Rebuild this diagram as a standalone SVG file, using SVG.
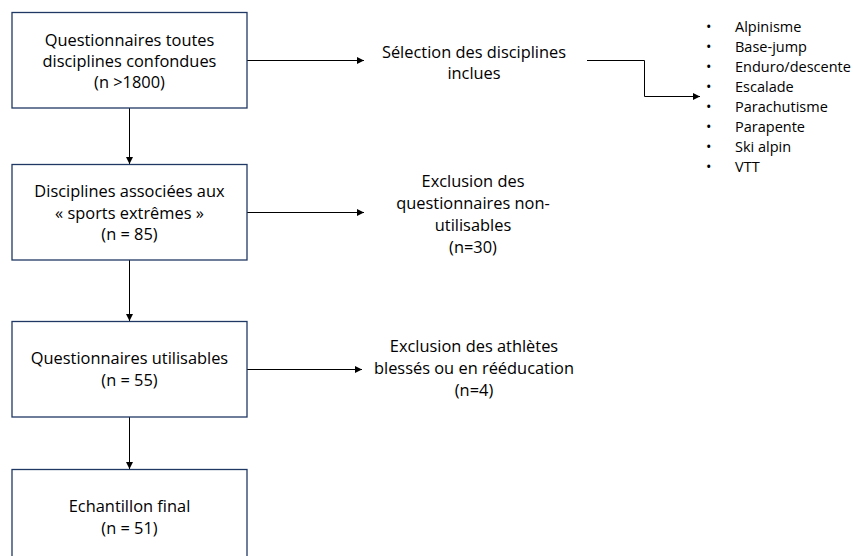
<svg xmlns="http://www.w3.org/2000/svg" width="853" height="556" viewBox="0 0 853 556">
<style>
.box{fill:#fff;stroke:#1F3864;stroke-width:1.3}
.t{font-family:"Open Sans","Liberation Sans",sans-serif;font-size:16.4px;fill:#000;text-anchor:middle}
.l{font-family:"Open Sans","Liberation Sans",sans-serif;font-size:14.5px;fill:#000}
.c{fill:none;stroke:#000;stroke-width:1}
</style>
<defs>
<marker id="ah" viewBox="0 0 10 10" refX="10" refY="5" markerWidth="7" markerHeight="7" markerUnits="userSpaceOnUse" orient="auto">
<path d="M0,0 L10,5 L0,10 z" fill="#000"/>
</marker>
</defs>
<rect width="853" height="556" fill="#fff"/>
<g id="connectors">
<line class="c" x1="129.5" y1="108" x2="129.5" y2="164" marker-end="url(#ah)"/>
<line class="c" x1="129.5" y1="260" x2="129.5" y2="321" marker-end="url(#ah)"/>
<line class="c" x1="129.5" y1="417" x2="129.5" y2="469" marker-end="url(#ah)"/>
<line class="c" x1="247" y1="60.5" x2="364" y2="60.5" marker-end="url(#ah)"/>
<line class="c" x1="247" y1="212.5" x2="364" y2="212.5" marker-end="url(#ah)"/>
<line class="c" x1="247" y1="369.5" x2="362" y2="369.5" marker-end="url(#ah)"/>
<polyline class="c" points="587,60.5 644.5,60.5 644.5,96.5 700,96.5" marker-end="url(#ah)"/>
</g>
<g id="n1">
<rect class="box" x="12" y="12.5" width="235" height="95.5"/>
<text class="t" x="129.5" y="46">Questionnaires toutes</text>
<text class="t" x="129.5" y="67">disciplines confondues</text>
<text class="t" x="129.5" y="88">(n &gt;1800)</text>
</g>
<g id="n2">
<rect class="box" x="12" y="164.5" width="235" height="95.5"/>
<text class="t" x="129.5" y="197">Disciplines associées aux</text>
<text class="t" x="129.5" y="218.5">« sports extrêmes »</text>
<text class="t" x="129.5" y="240">(n = 85)</text>
</g>
<g id="n3">
<rect class="box" x="12" y="321.5" width="235" height="95.5"/>
<text class="t" x="129.5" y="364">Questionnaires utilisables</text>
<text class="t" x="129.5" y="386">(n = 55)</text>
</g>
<g id="n4">
<rect class="box" x="12" y="469.5" width="235" height="95.5"/>
<text class="t" x="129.5" y="512">Echantillon final</text>
<text class="t" x="129.5" y="534">(n = 51)</text>
</g>
<g id="s1">
<text class="t" x="474" y="58">Sélection des disciplines</text>
<text class="t" x="474" y="79">inclues</text>
</g>
<g id="s2">
<text class="t" x="473" y="187">Exclusion des</text>
<text class="t" x="473" y="209">questionnaires non-</text>
<text class="t" x="473" y="231">utilisables</text>
<text class="t" x="473" y="253">(n=30)</text>
</g>
<g id="s3">
<text class="t" x="474" y="352">Exclusion des athlètes</text>
<text class="t" x="474" y="374">blessés ou en rééducation</text>
<text class="t" x="474" y="396">(n=4)</text>
</g>
<g id="list">
<text class="l" x="706" y="32">•</text><text class="l" x="735" y="32">Alpinisme</text>
<text class="l" x="706" y="52">•</text><text class="l" x="735" y="52">Base-jump</text>
<text class="l" x="706" y="72">•</text><text class="l" x="735" y="72">Enduro/descente</text>
<text class="l" x="706" y="92">•</text><text class="l" x="735" y="92">Escalade</text>
<text class="l" x="706" y="112">•</text><text class="l" x="735" y="112">Parachutisme</text>
<text class="l" x="706" y="132">•</text><text class="l" x="735" y="132">Parapente</text>
<text class="l" x="706" y="152">•</text><text class="l" x="735" y="152">Ski alpin</text>
<text class="l" x="706" y="172">•</text><text class="l" x="735" y="172">VTT</text>
</g>
</svg>
